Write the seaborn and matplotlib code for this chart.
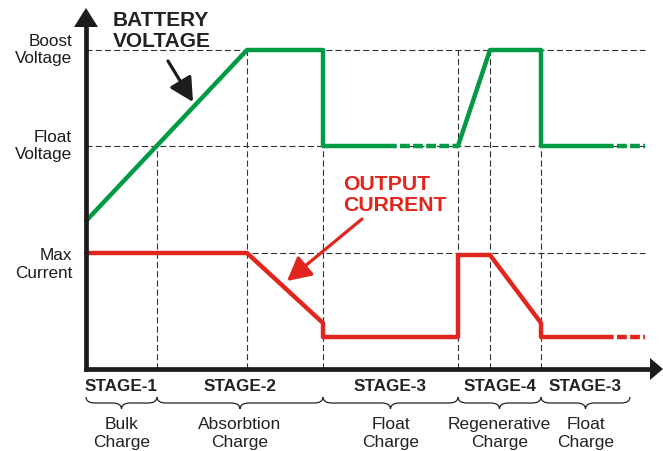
"""
Etapas de carga de batería: tensión de batería y corriente de salida
(diagrama esquemático redibujado con seaborn / matplotlib).
"""

import matplotlib
matplotlib.use("Agg")
import matplotlib.pyplot as plt
import seaborn as sns
from matplotlib.path import Path
from matplotlib.patches import PathPatch

# ───────────────────────────────────────────────────────────────
# Datos (unidades arbitrarias: tiempo → x, nivel → y)
# ───────────────────────────────────────────────────────────────
levels = {"boost": 319, "float": 223, "max_i": 116, "low_i": 32}
level_labels = ["Boost\nVoltage", "Float\nVoltage", "Max\nCurrent"]
level_keys   = ["boost", "float", "max_i"]

# límites de etapa (líneas verticales punteadas) y su nivel superior
stage_t   = [71, 161, 237, 372, 404, 455]
stage_top = ["float", "boost", "float", "boost", "boost", "boost"]

# tensión de batería (verde)
volt_t  = [0, 161, 237, 237, 304]
volt_v  = [148, 319, 319, 223, 223]
volt2_t = [372, 404, 455, 455, 521]
volt2_v = [223, 319, 319, 223, 223]
volt_dash = [(304, 372), (521, 559)]          # tramos "continúa..."

# corriente de salida (roja)
cur_t = [0, 161, 237, 237, 372, 372, 404, 455, 455, 521]
cur_v = [116, 116, 46, 32, 32, 114, 114, 46, 32, 32]
cur_dash = [(521, 559)]

# etapas (llaves inferiores)
braces      = [(0, 71), (71, 237), (237, 372), (372, 455), (455, 544)]
stage_names = ["STAGE-1", "STAGE-2", "STAGE-3", "STAGE-4", "STAGE-3"]
stage_desc  = ["Bulk\nCharge", "Absorbtion\nCharge", "Float\nCharge",
               "Regenerative\nCharge", "Float\nCharge"]

T_END  = 559      # fin de las líneas guía
X_TIP  = 577      # punta de la flecha del eje x
Y_TIP  = 361      # punta de la flecha del eje y

GREEN = "#009a44"
RED   = "#e2261d"
INK   = "#1c1c1c"
LW    = 3.2

# ───────────────────────────────────────────────────────────────
sns.set_theme(style="white")
plt.rcParams["font.family"] = ["Liberation Sans", "DejaVu Sans"]

fig = plt.figure(figsize=(6.63, 4.52), dpi=100)
ax = fig.add_axes([0, 0, 1, 1])
ax.set_xlim(-86, 577)
ax.set_ylim(-82, 370)
ax.axis("off")

grid_kw = dict(color="#333333", lw=0.8, ls=(0, (5.5, 2.8)), zorder=1)

# líneas guía horizontales
for k in level_keys:
    ax.plot([0, T_END], [levels[k]] * 2, **grid_kw)
# líneas guía verticales
for t, top in zip(stage_t, stage_top):
    ax.plot([t, t], [0, levels[top]], **grid_kw)

# curvas principales
line_kw = dict(lw=LW, sort=False, estimator=None, ax=ax, legend=False)
sns.lineplot(x=volt_t, y=volt_v, color=GREEN, zorder=3, **line_kw)
sns.lineplot(x=volt2_t, y=volt2_v, color=GREEN, zorder=3, **line_kw)
sns.lineplot(x=cur_t, y=cur_v, color=RED, zorder=3, **line_kw)

dash_pat = (0.7, (2.2, 0.75))
for t0, t1 in volt_dash:
    ax.plot([t0, t1], [levels["float"]] * 2, color=GREEN, lw=LW, ls=dash_pat, zorder=3)
for t0, t1 in cur_dash:
    ax.plot([t0, t1], [levels["low_i"]] * 2, color=RED, lw=LW, ls=dash_pat, zorder=3)

# ejes con flechas
ax.plot([0, 0], [0, Y_TIP - 18], color=INK, lw=3.4, solid_capstyle="projecting", zorder=4)
ax.plot([0, X_TIP - 12], [0, 0], color=INK, lw=3.4, solid_capstyle="projecting", zorder=4)
ax.fill([-12, 12, 0], [Y_TIP - 19, Y_TIP - 19, Y_TIP], color=INK, lw=0, zorder=4)
ax.fill([X_TIP - 13, X_TIP - 13, X_TIP], [11, -11, 0], color=INK, lw=0, zorder=4)

# etiquetas de nivel
offsets = {"boost": 1, "float": 1, "max_i": -10}
for k, lbl in zip(level_keys, level_labels):
    ax.text(-14, levels[k] + offsets[k], lbl, ha="right", va="center",
            fontsize=12.3, color=INK, linespacing=1.25)

# anotaciones
ax.text(27, 339, "BATTERY\nVOLTAGE", ha="left", va="center", fontsize=15,
        fontweight="bold", color="#222222", linespacing=1.15)
ax.annotate("", xy=(107, 267), xytext=(82, 308),
            arrowprops=dict(arrowstyle="-|>,head_length=0.8,head_width=0.42",
                            lw=2.3, color=INK, mutation_scale=18,
                            shrinkA=0, shrinkB=0))
ax.text(257, 175, "OUTPUT\nCURRENT", ha="left", va="center", fontsize=15.3,
        fontweight="bold", color=RED, linespacing=1.1)
ax.annotate("", xy=(201, 88), xytext=(276, 150),
            arrowprops=dict(arrowstyle="-|>,head_length=0.8,head_width=0.42",
                            lw=2.3, color=RED, mutation_scale=18,
                            shrinkA=0, shrinkB=0))


def brace(ax, x0, x1, ytop, h):
    """Llave horizontal apuntando hacia abajo."""
    xm = (x0 + x1) / 2
    r = min(9, (x1 - x0) / 6)
    yb = ytop - h / 2
    ytip = ytop - h
    verts = [(x0, ytop), (x0, yb), (x0 + r, yb), (xm - r, yb), (xm, yb),
             (xm, ytip), (xm, yb), (xm + r, yb), (x1 - r, yb), (x1, yb),
             (x1, ytop)]
    codes = [Path.MOVETO, Path.CURVE3, Path.CURVE3, Path.LINETO, Path.CURVE3,
             Path.CURVE3, Path.CURVE3, Path.CURVE3, Path.LINETO, Path.CURVE3,
             Path.CURVE3]
    ax.add_patch(PathPatch(Path(verts, codes), fill=False, lw=0.9, ec="#222222"))


for (x0, x1), name, desc in zip(braces, stage_names, stage_desc):
    xm = (x0 + x1) / 2
    ax.text(xm, -17, name, ha="center", va="center", fontsize=12.3,
            fontweight="bold", color="#222222")
    brace(ax, x0, x1, -28, 12)
    ax.text(xm, -63.5, desc, ha="center", va="center", fontsize=12.5,
            color="#222222", linespacing=1.2)

fig.savefig("out.png", dpi=100)
print("out.png listo")
